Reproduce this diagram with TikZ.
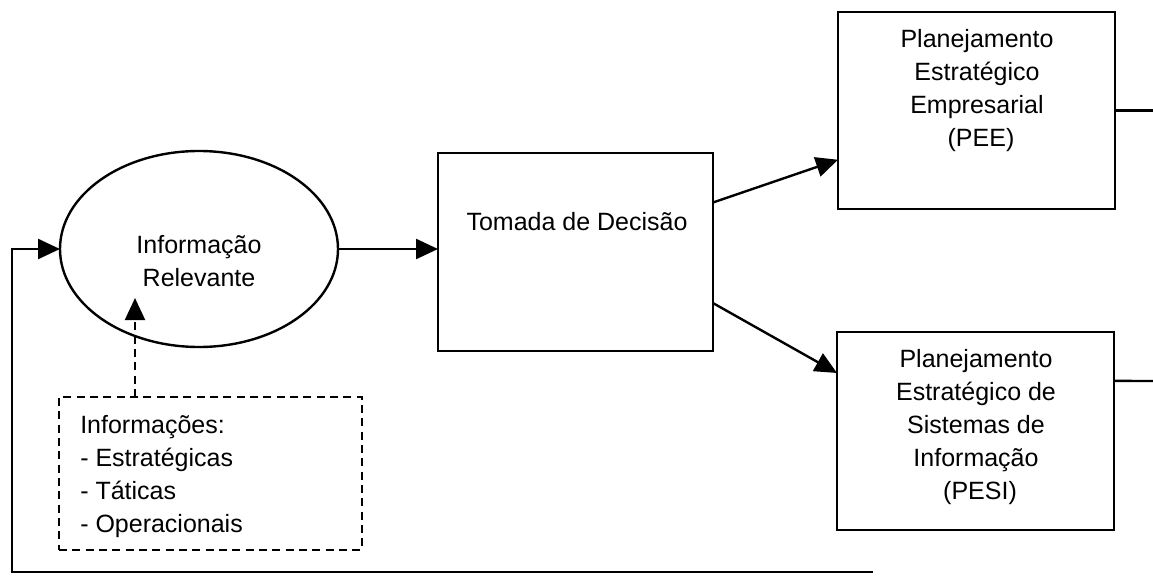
\documentclass[tikz,border=0pt]{standalone}
\usepackage{fontspec}
\setmainfont{Liberation Sans}
\usetikzlibrary{arrows.meta,calc,shapes.geometric}

\begin{document}
\begin{tikzpicture}[
    x=0.75pt, y=-0.75pt,
    txt/.style={font=\fontsize{18.75pt}{24.75pt}\selectfont, align=center, inner sep=0pt},
    box/.style={draw, line width=2pt, rectangle, outer sep=0pt, inner sep=0pt},
    oval/.style={draw, line width=1.8pt, ellipse, outer sep=0pt, inner sep=0pt,
                 minimum width=208.5pt, minimum height=147pt},
    dbox/.style={draw, line width=1.5pt, dash pattern=on 6pt off 4pt, rectangle,
                 outer sep=0pt, inner sep=0pt, minimum width=227.25pt, minimum height=114.75pt},
    conn/.style={line width=1.8pt, -{Triangle[length=16.5pt,width=15pt]}},
    dconn/.style={line width=1.5pt, dash pattern=on 6pt off 4pt,
                  -{Triangle[length=16.5pt,width=15pt]}},
    plain/.style={line width=1.8pt}
  ]
  \useasboundingbox (0,0) rectangle (1153,581);

  % central flow: information -> decision
  \node[oval] (info) at (199,249) {};
  \node[txt] (infotext) at (199,261) {Informação\\Relevante};

  \node[box, minimum width=206.25pt, minimum height=148.5pt] (dec) at (575.5,252) {};
  \node[txt] (dectext) at (577,222) {Tomada de Decisão};

  % the two plans
  \node[box, minimum width=207.75pt, minimum height=147.75pt] (pee) at (976.5,110.5) {};
  \node[txt] (peetext) at (977,91) {Planejamento\\Estratégico\\Empresarial\\\hspace*{6pt}(PEE)};

  \node[box, minimum width=207.75pt, minimum height=148.5pt] (pesi) at (975.5,431) {};
  \node[txt] (pesitext) at (976,427) {Planejamento\\Estratégico de\\Sistemas de\\Informação\\\hspace*{6pt}(PESI)};

  % kinds of information
  \node[dbox] (types) at (210.5,473.5) {};
  \node[txt, align=left, anchor=west] (typestext) at (80,477)
    {Informações:\\- Estratégicas\\- Táticas\\- Operacionais};

  % free ends
  \coordinate (tip) at (135,298);
  \coordinate (peeout) at (1153,110.5);
  \coordinate (pesiout) at (1153,381);
  \coordinate (fbstart) at (873,572);
  \coordinate (fbcorner) at (12,572);

  % connectors
  \draw[conn] (info.east) -- (info.east -| dec.west);
  \draw[conn] ($(dec.north east)!0.25!(dec.south east)$) -- ($(pee.north west)!0.75!(pee.south west)$);
  \draw[conn] ($(dec.north east)!0.758!(dec.south east)$) -- ($(pesi.north west)!0.207!(pesi.south west)$);
  \draw[plain] (pee.east) -- (peeout);
  \draw[plain] ($(pesi.north east)!0.247!(pesi.south east)$) -- (pesiout);
  \draw[dconn] (types.north -| tip) -- (tip);
  \draw[conn] (fbstart) -- (fbcorner) |- (info.west);
\end{tikzpicture}
\end{document}
